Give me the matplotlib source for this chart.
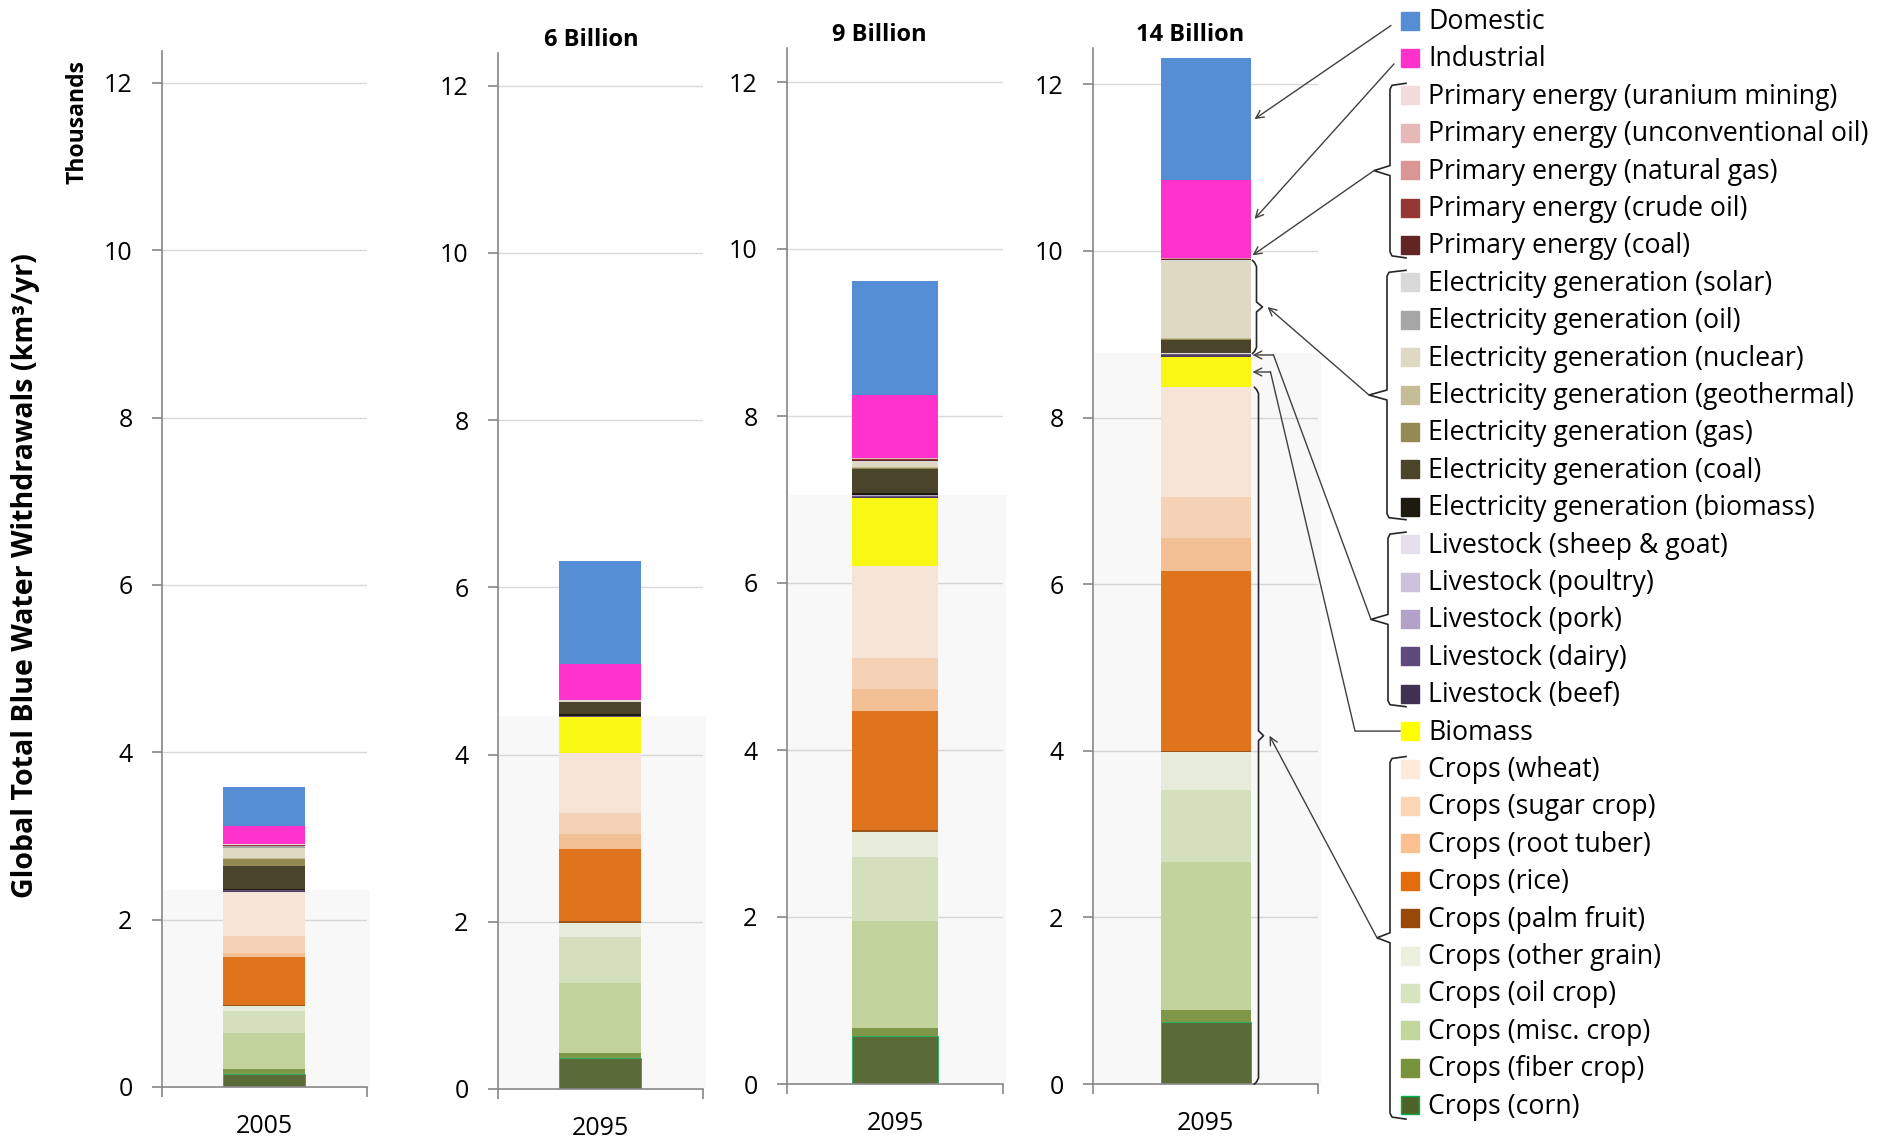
import matplotlib.pyplot as plt
from matplotlib.lines import Line2D
from matplotlib.patches import Rectangle

plt.rcParams['font.family'] = ['Open Sans', 'DejaVu Sans']

W, H = 1890, 1142

years = ["2005", "2095", "2095", "2095"]
populations = ["", "6 Billion", "9 Billion", "14 Billion"]

# withdrawals in thousand km3/yr, one value per column (2005, 6B, 9B, 14B)
crop_labels = ["Crops (corn)", "Crops (fiber crop)", "Crops (misc. crop)", "Crops (oil crop)",
               "Crops (other grain)", "Crops (palm fruit)", "Crops (rice)",
               "Crops (root tuber)", "Crops (sugar crop)", "Crops (wheat)"]
crop_values = [
    [0.152, 0.367, 0.577, 0.741],
    [0.064, 0.062, 0.091, 0.143],
    [0.432, 0.836, 1.290, 1.777],
    [0.264, 0.549, 0.759, 0.867],
    [0.060, 0.168, 0.299, 0.454],
    [0.008, 0.022, 0.024, 0.010],
    [0.576, 0.863, 1.422, 2.172],
    [0.048, 0.182, 0.272, 0.388],
    [0.200, 0.256, 0.370, 0.496],
    [0.528, 0.717, 1.102, 1.314],
]
crop_colors = ["#4F6228", "#77933C", "#C3D69B", "#D7E4BD", "#EBF1DE",
               "#984807", "#E46C0A", "#FAC090", "#FCD5B5", "#FDEADA"]

biomass_values = [0.0, 0.425, 0.817, 0.371]

livestock_labels = ["Livestock (beef)", "Livestock (dairy)", "Livestock (pork)",
                    "Livestock (poultry)", "Livestock (sheep & goat)"]
livestock_values = [
    [0.010, 0.005, 0.012, 0.014],
    [0.012, 0.004, 0.010, 0.011],
    [0.003, 0.002, 0.006, 0.007],
    [0.002, 0.001, 0.003, 0.003],
    [0.001, 0.001, 0.002, 0.002],
]
livestock_colors = ["#3F3151", "#604A7B", "#B3A2C7", "#CCC1DA", "#E5E0EC"]

elec_labels = ["Electricity generation (biomass)", "Electricity generation (coal)",
               "Electricity generation (gas)", "Electricity generation (geothermal)",
               "Electricity generation (nuclear)", "Electricity generation (oil)",
               "Electricity generation (solar)"]
elec_values = [
    [0.008, 0.020, 0.024, 0.010],
    [0.272, 0.144, 0.280, 0.155],
    [0.088, 0.006, 0.020, 0.010],
    [0.004, 0.004, 0.005, 0.006],
    [0.124, 0.010, 0.060, 0.925],
    [0.020, 0.002, 0.010, 0.005],
    [0.004, 0.002, 0.010, 0.005],
]
elec_colors = ["#1D1B10", "#4A452A", "#948A54", "#C4BD97", "#DDD9C3", "#A6A6A6", "#D9D9D9"]

primary_labels = ["Primary energy (coal)", "Primary energy (crude oil)",
                  "Primary energy (natural gas)", "Primary energy (unconventional oil)",
                  "Primary energy (uranium mining)"]
primary_values = [
    [0.006, 0.002, 0.010, 0.012],
    [0.006, 0.002, 0.010, 0.008],
    [0.004, 0.001, 0.006, 0.004],
    [0.002, 0.001, 0.004, 0.002],
    [0.002, 0.001, 0.002, 0.002],
]
primary_colors = ["#632523", "#953735", "#D99694", "#E6B9B8", "#F2DCDB"]

industrial_values = [0.216, 0.434, 0.752, 0.941]
domestic_values = [0.472, 1.226, 1.368, 1.457]

# stacking order, bottom to top
series = (list(zip(crop_labels, crop_values, crop_colors))
          + [("Biomass", biomass_values, "#FFFF00")]
          + list(zip(livestock_labels, livestock_values, livestock_colors))
          + list(zip(elec_labels, elec_values, elec_colors))
          + list(zip(primary_labels, primary_values, primary_colors))
          + [("Industrial", industrial_values, "#FF33CC"),
             ("Domestic", domestic_values, "#558ED5")])

# panel frames in pixels: left, right, top, y of zero, pixels per thousand
panels = [(162, 367, 51, 1087, 83.67),
          (498, 703, 53, 1089, 83.6),
          (787, 1003, 48, 1084, 83.5),
          (1093, 1318, 48, 1084, 83.3)]
title_pos = [None, (591, 40), (879, 35), (1190, 35)]

GRAY = "#868686"
fig = plt.figure(figsize=(W / 100, H / 100), dpi=100)

axes = []
for i, (left, right, top, zero, unit) in enumerate(panels):
    ax = fig.add_axes([left / W, 1 - zero / H, (right - left) / W, (zero - top) / H])
    ax.set_xlim(-1, 1)
    ax.set_ylim(0, (zero - top) / unit)
    ax.set_facecolor("none")

    bottom = 0.0
    for label, vals, color in series:
        corn = label == "Crops (corn)"
        ax.bar(0, vals[i], width=0.8, bottom=bottom, color=color,
               edgecolor="#00B050" if corn else color,
               linewidth=0.6 if corn else 0, zorder=2)
        bottom += vals[i]

    # land-use share (crops, biomass, livestock): translucent grey veil over the bar
    land = (sum(v[i] for v in crop_values) + biomass_values[i]
            + sum(v[i] for v in livestock_values))
    ax.bar(-1, land, width=2.03, align="edge", color=(0.74, 0.74, 0.74, 0.106),
           linewidth=0, zorder=3, clip_on=False)

    for s in ["top", "right"]:
        ax.spines[s].set_visible(False)
    for s in ["left", "bottom"]:
        ax.spines[s].set_color(GRAY)
        ax.spines[s].set_linewidth(1.2)
    ax.set_yticks(range(0, 13, 2))
    ax.yaxis.grid(True, color="#D9D9D9", linewidth=1)
    ax.set_axisbelow(True)
    ax.tick_params(axis="y", length=7.2, color=GRAY, width=1.2, pad=14, labelsize=18)
    ax.set_xticks([-1, 1])
    ax.tick_params(axis="x", which="major", length=7.2, color=GRAY, width=1.2, labelbottom=False)
    ax.set_xticks([0], labels=[years[i]], minor=True)
    ax.tick_params(axis="x", which="minor", length=0, pad=19.5, labelsize=18)
    if title_pos[i]:
        fig.text(title_pos[i][0] / W, 1 - title_pos[i][1] / H, populations[i],
                 fontsize=17, fontweight="bold", ha="center", va="center")
    axes.append(ax)

fig.text(78 / W, 1 - 122 / H, "Thousands", rotation=90, fontsize=16.5,
         fontweight="bold", ha="center", va="center")
fig.text(26 / W, 1 - 576 / H, "Global Total Blue Water Withdrawals (km³/yr)",
         rotation=90, fontsize=20.5, fontweight="bold", ha="center", va="center")

# overlay in pixel coordinates for the legend, braces and arrows
ov = fig.add_axes([0, 0, 1, 1])
ov.set_xlim(0, W)
ov.set_ylim(H, 0)
ov.axis("off")

legend = series[::-1]
row_y = [20.5 + 37.4 * k for k in range(len(legend))]
for (label, vals, color), y in zip(legend, row_y):
    edge = "#00B050" if label == "Crops (corn)" else color
    ov.add_patch(Rectangle((1401, y - 9), 18, 18, facecolor=color, edgecolor=edge, lw=1))
    ov.text(1428, y + 8.5, label, fontsize=19.2, va="baseline", ha="left")


def brace(x, y0, y1, tip, hook):
    ym = (y0 + y1) / 2
    s = 1 if hook > 0 else -1
    xs = [x + hook, x + 2 * s, x, x, tip, x, x, x + 2 * s, x + hook]
    ys = [y0, y0 + 2, y0 + 6, ym - 5, ym, ym + 5, y1 - 6, y1 - 2, y1]
    ov.add_line(Line2D(xs, ys, color="#262626", lw=1.2))
    return tip, ym


def arrow(start, end):
    ov.annotate("", xy=end, xytext=start,
                arrowprops=dict(arrowstyle="->", color="#404040", lw=1,
                                shrinkA=0, shrinkB=0, mutation_scale=14))


def to_px(ax, x, y):
    dx, dy = ax.transData.transform((x, y))
    return dx, H - dy


ax4 = axes[3]
seg = {}
total = 0.0
for label, vals, color in series:
    seg[label] = (total, total + vals[3])
    total += vals[3]

bar_r = to_px(ax4, 0.4, 0)[0]


def mid_px(lo, hi):
    return to_px(ax4, 0.4, (lo + hi) / 2)[1]


def rows_of(labels):
    idx = [k for k, (lab, _, _) in enumerate(legend) if lab in labels]
    return row_y[min(idx)], row_y[max(idx)]


# Domestic and Industrial point straight at their segments
arrow((1391, row_y[0] + 5), (bar_r + 4, mid_px(*seg["Domestic"])))
arrow((1394, row_y[1] + 6), (bar_r + 4, mid_px(*seg["Industrial"])))

# Primary energy
r0, r1 = rows_of(primary_labels)
tip = brace(1390, r0 - 12, r1 + 13, 1374, 16)
p_lo = seg[primary_labels[0]][0]
p_hi = seg[primary_labels[-1]][1]
arrow(tip, (bar_r + 2, mid_px(p_lo, p_hi) - 4))

# Electricity generation: small brace on the bar
e_lo = seg[elec_labels[0]][0]
e_hi = seg[elec_labels[-1]][1]
b_tip = brace(bar_r + 6, to_px(ax4, 0, e_hi)[1], to_px(ax4, 0, e_lo)[1], bar_r + 12, -4)
r0, r1 = rows_of(elec_labels)
tip = brace(1387, r0 - 12, r1 + 13, 1369, 19)
arrow(tip, (b_tip[0] + 5, b_tip[1]))

# Livestock: elbow into the thin segment
l_lo = seg[livestock_labels[0]][0]
l_hi = seg[livestock_labels[-1]][1]
ly = mid_px(l_lo, l_hi)
r0, r1 = rows_of(livestock_labels)
tip = brace(1388, r0 - 12, r1 + 13, 1371, 18)
ov.add_line(Line2D([tip[0], bar_r + 23], [tip[1], ly], color="#404040", lw=1))
arrow((bar_r + 23, ly), (bar_r + 2, ly))

# Biomass
by = mid_px(*seg["Biomass"])
brow = rows_of(["Biomass"])[0]
ov.add_line(Line2D([1400, 1355, bar_r + 20], [brow, brow, by], color="#404040", lw=1))
arrow((bar_r + 20, by), (bar_r + 2, by))

# Crops: long brace on the bar
c_lo = seg[crop_labels[0]][0]
c_hi = seg[crop_labels[-1]][1]
b_tip = brace(bar_r + 8, to_px(ax4, 0, c_hi)[1], to_px(ax4, 0, c_lo)[1], bar_r + 13, -4)
r0, r1 = rows_of(crop_labels)
tip = brace(1390, r0 - 12, r1 + 14, 1377, 16)
arrow(tip, (b_tip[0] + 6, b_tip[1]))

fig.savefig("out.png", dpi=100)
